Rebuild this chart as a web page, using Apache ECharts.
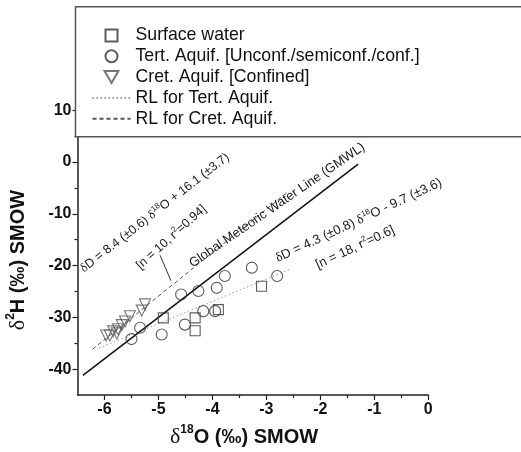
<!DOCTYPE html>
<html>
<head>
<meta charset="utf-8">
<script src="https://cdn.jsdelivr.net/npm/echarts@6/dist/echarts.min.js"></script>
<style>
  html, body { margin: 0; padding: 0; background: #fff; }
  #chart { width: 521px; height: 452px; }
</style>
</head>
<body>
<div id="chart"></div>
<script>
// Stable isotope pairs (‰ vs SMOW) for each water group
const surfaceO = [-4.91, -4.32, -4.32, -3.89, -3.09];
const surfaceH = [-30.1, -30.1, -32.6, -28.5, -24.0];

const tertO = [-5.50, -5.34, -4.94, -4.51, -4.17, -3.95, -4.58, -4.26, -3.92, -3.77, -3.27, -2.80];
const tertH = [-34.2, -32.0, -33.3, -31.4, -28.8, -28.8, -25.6, -24.9, -24.3, -22.0, -20.4, -22.0];

const cretO = [-5.25, -5.31, -5.53, -5.68, -5.75, -5.84, -5.77, -5.90, -5.97, -5.62];
const cretH = [-27.5, -28.7, -29.8, -31.5, -32.3, -32.7, -33.1, -33.5, -33.5, -30.8];

// Reference lines: [slope, intercept] and the δ18O span they are drawn over
const gmwlCoef = [8, 10];
const gmwlSpan = [-6.4, -1.3];
const tertRlCoef = [4.3, -9.7];
const tertRlSpan = [-6.1, -2.55];
const cretRlCoef = [8.4, 16.1];
const cretRlSpan = [-6.22, -2.62];

// Axis ticks
const xMajorTicks = [-6, -5, -4, -3, -2, -1, 0];
const xMinorTicks = [-5.5, -4.5, -3.5, -2.5, -1.5, -0.5];
const yMajorTicks = [-40, -30, -20, -10, 0, 10];
const yMinorTicks = [-35, -25, -15, -5, 5];

const legendNames = [
  'Surface water',
  'Tert. Aquif. [Unconf./semiconf./conf.]',
  'Cret. Aquif. [Confined]',
  'RL for Tert. Aquif.',
  'RL for Cret. Aquif.'
];

const pairs = (xs, ys) => xs.map((x, i) => [x, ys[i]]);
const lineEnds = (coef, span) => span.map(x => [x, coef[0] * x + coef[1]]);

const SANS = 'Liberation Sans, Arial, sans-serif';
const SERIF = 'Liberation Serif, Times New Roman, serif';

const chart = echarts.init(document.getElementById('chart'), null, { renderer: 'canvas' });

const hollow = (stroke) => ({ color: 'transparent', borderColor: stroke, borderWidth: 1.1 });
const noSymbol = { color: 'rgba(0,0,0,0)', borderWidth: 0 };

const tickLabel = { fontFamily: SANS, fontSize: 16, fontWeight: 'bold', color: '#111' };
const tickLine = { color: '#222', width: 1.2 };

chart.setOption({
  animation: false,
  backgroundColor: '#fff',
  grid: { left: 77.5, right: 92.7, top: 84.4, bottom: 57, containLabel: false, outerBoundsMode: 'none' },
  xAxis: [
    {
      type: 'value', min: -6.5, max: 0,
      axisLine: { show: true, onZero: false, lineStyle: { color: '#222', width: 1.5 } },
      axisTick: { show: true, length: 5, customValues: xMajorTicks, lineStyle: tickLine },
      axisLabel: Object.assign({ margin: 7, customValues: xMajorTicks, formatter: v => String(v) }, tickLabel),
      splitLine: { show: false }
    },
    {
      type: 'value', min: -6.5, max: 0, position: 'bottom',
      axisLine: { show: false, onZero: false },
      axisTick: { show: true, length: 3, customValues: xMinorTicks, lineStyle: tickLine },
      axisLabel: { show: false },
      splitLine: { show: false }
    }
  ],
  yAxis: [
    {
      type: 'value', min: -45, max: 15,
      axisLine: { show: true, onZero: false, lineStyle: { color: '#222', width: 1.5 } },
      axisTick: { show: true, length: 5, customValues: yMajorTicks, lineStyle: tickLine },
      axisLabel: Object.assign({ margin: 6, customValues: yMajorTicks, formatter: v => String(v) }, tickLabel),
      splitLine: { show: false }
    },
    {
      type: 'value', min: -45, max: 15, position: 'left',
      axisLine: { show: false, onZero: false },
      axisTick: { show: true, length: 3, customValues: yMinorTicks, lineStyle: tickLine },
      axisLabel: { show: false },
      splitLine: { show: false }
    }
  ],
  legend: {
    data: [
      { name: legendNames[0], icon: 'path://M0,0H10V10H0Z' },
      { name: legendNames[1], icon: 'circle' },
      { name: legendNames[2], icon: 'path://M0,0L12,0L6,10.4Z' },
      { name: legendNames[3] },
      { name: legendNames[4] }
    ],
    orient: 'vertical',
    left: 91.5, top: 26.5,
    padding: 0,
    itemWidth: 38, itemHeight: 12, itemGap: 2.8,
    selectedMode: false,
    textStyle: { fontFamily: SANS, fontSize: 17.7, color: '#111', lineHeight: 17.7 },
    z: 5
  },
  series: [
    {
      name: legendNames[0], type: 'scatter', symbol: 'rect', symbolSize: 10,
      itemStyle: hollow('#333'), data: pairs(surfaceO, surfaceH), z: 3
    },
    {
      name: legendNames[1], type: 'scatter', symbol: 'circle', symbolSize: 11,
      itemStyle: hollow('#333'), data: pairs(tertO, tertH), z: 3
    },
    {
      name: legendNames[2], type: 'scatter', symbol: 'triangle', symbolRotate: 180, symbolSize: 11,
      itemStyle: hollow('#555'), data: pairs(cretO, cretH), z: 3
    },
    {
      name: legendNames[3], type: 'line', symbol: 'none',
      itemStyle: noSymbol,
      lineStyle: { color: '#999', width: 1, type: [1.5, 2.5] },
      data: lineEnds(tertRlCoef, tertRlSpan)
    },
    {
      name: legendNames[4], type: 'line', symbol: 'none',
      itemStyle: noSymbol,
      lineStyle: { color: '#555', width: 1, type: [4, 3] },
      data: lineEnds(cretRlCoef, cretRlSpan),
      markLine: {
        silent: true, animation: false,
        symbol: ['none', 'arrow'], symbolSize: [0, 7],
        label: { show: false },
        lineStyle: { color: '#333', width: 1, type: 'solid' },
        data: [[{ coord: [-4.77, -22.9] }, { coord: [-4.97, -18.0] }]]
      }
    },
    {
      name: 'GMWL', type: 'line', symbol: 'none',
      itemStyle: noSymbol,
      lineStyle: { color: '#111', width: 1.5 },
      data: lineEnds(gmwlCoef, gmwlSpan)
    }
  ]
});

// Annotation text helpers
const px = (pt) => chart.convertToPixel({ seriesIndex: 0 }, pt);
const deg = (d) => d * Math.PI / 180;

function richStyle(size) {
  return {
    g: { fontFamily: SERIF, fontSize: size, lineHeight: size + 3, fill: '#1a1a1a' },
    t: { fontFamily: SANS, fontSize: size, lineHeight: size + 3, fill: '#1a1a1a' },
    s: { fontFamily: SANS, fontSize: Math.round(size * 0.6), lineHeight: Math.round(size * 0.7), verticalAlign: 'top', fill: '#1a1a1a' }
  };
}

function note(anchor, angle, text, size) {
  const p = px(anchor);
  return {
    type: 'text', x: p[0], y: p[1], rotation: deg(angle), z: 6,
    style: { text: text, rich: richStyle(size), align: 'left', verticalAlign: 'bottom' }
  };
}

const titleRich = {
  g: { fontFamily: SERIF, fontSize: 22, lineHeight: 26, fill: '#111' },
  s: { fontFamily: SANS, fontSize: 12, fontWeight: 'bold', lineHeight: 16, verticalAlign: 'top', fill: '#111' },
  b: { fontFamily: SANS, fontSize: 20, fontWeight: 'bold', lineHeight: 26, fill: '#111' }
};

chart.setOption({
  graphic: [
    // framed key area across the top of the plot
    {
      type: 'rect', z: 4,
      shape: { x: 75.5, y: 6.7, width: 470, height: 130 },
      style: { fill: '#fff', stroke: '#555', lineWidth: 1.5 }
    },
    note([-6.33, -22.0], 38, '{g|δ}{t|D = 8.4 (±0.6) }{g|δ}{s|18}{t|O + 16.1 (±3.7)}', 12.5),
    note([-5.28, -21.4], 42, '{t|[n = 10, r}{s|2}{t|=0.94]}', 12.5),
    note([-4.32, -21.1], 34.5, '{t|Global Meteoric Water Line (GMWL)}', 13),
    note([-2.75, -20.1], 25, '{g|δ}{t|D = 4.3 (±0.8) }{g|δ}{s|18}{t|O - 9.7 (±3.6)}', 13),
    note([-2.01, -21.4], 25, '{t|[n = 18, r}{s|2}{t|=0.6]}', 13),
    {
      type: 'text', x: 244, y: 437, z: 6,
      style: { text: '{g|δ}{s|18}{b|O (‰) SMOW}', rich: titleRich, align: 'center', verticalAlign: 'middle' }
    },
    {
      type: 'text', x: 18, y: 260, rotation: Math.PI / 2, z: 6,
      style: { text: '{g|δ}{s|2}{b|H (‰) SMOW}', rich: titleRich, align: 'center', verticalAlign: 'middle' }
    }
  ]
});
</script>
</body>
</html>
